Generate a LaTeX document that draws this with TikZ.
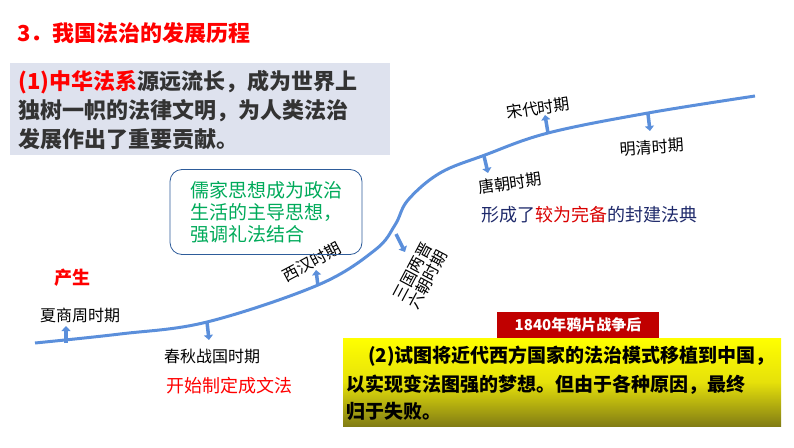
\documentclass[tikz,border=0pt]{standalone}
\usepackage{fontspec}
\setmainfont{Noto Sans CJK SC}
\usetikzlibrary{arrows.meta}
\definecolor{curveblue}{HTML}{5B8FDB}
\definecolor{titlered}{HTML}{FF0000}
\definecolor{navy}{HTML}{1F2A6B}
\tikzset{
  fs/.style={font=\fontsize{#1}{#1}\selectfont},
  fsb/.style={font=\fontsize{#1}{#1}\selectfont\bfseries},
  stub/.style={curveblue,line width=3.5pt,-{Triangle[length=5pt,width=9pt]}},
  period/.style={fs=16,anchor=center,inner sep=0pt},
}
\begin{document}
\begin{tikzpicture}[x=1pt,y=-1pt]
\useasboundingbox (0,0) rectangle (794,447);
% title
\node[fsb=22,text=titlered,anchor=west] (title) at (14,33) {3．我国法治的发展历程};
% grey box
\fill[fill={rgb,255:red,222;green,226;blue,238}] (10,63) rectangle (390,155);
\node[anchor=north west,align=left,fsb=22,text={rgb,255:red,51;green,51;blue,51},inner sep=0pt] (intro) at (18,70)
 {\textcolor{titlered}{(1)中华法系}源远流长，成为世界上\\[5pt]独树一帜的法律文明，为人类法治\\[5pt]发展作出了重要贡献。};
% curve
\draw[curveblue,line width=3pt] plot[smooth,tension=0.6] coordinates
 {(35,343) (120,334) (207,322) (318,285) (375,250) (395,225) (408,200) (440,173) (485,155) (548,133) (648,113) (755,96)};
% stubs
\coordinate (c1) at (66,343); \coordinate (c1e) at (66,326);
\coordinate (c2) at (207,322); \coordinate (c2e) at (209,340);
\coordinate (c3) at (318,286); \coordinate (c3e) at (316,270);
\coordinate (c4) at (396,234); \coordinate (c4e) at (405,252);
\coordinate (c5) at (484,156); \coordinate (c5e) at (488,173);
\coordinate (c6) at (548,133); \coordinate (c6e) at (545,115);
\coordinate (c7) at (648,114); \coordinate (c7e) at (650,131);
\foreach \a in {1,...,7}{\draw[stub] (c\a) -- (c\a e);}
% labels
\node[period] (xia) at (80,315) {夏商周时期};
\node[fsb=18,text=titlered] (cs) at (72,278) {产生};
\node[period] (cq) at (212,356) {春秋战国时期};
\node[fs=18,text=titlered] (cwf) at (229,386) {开始制定成文法};
\node[period,rotate=28] (xh) at (312,262) {西汉时期};
\node[period,rotate=62,align=center] (sg) at (420,276) {三国两晋\\[1pt]六朝时期};
\node[period,rotate=8] (tang) at (510,183) {唐朝时期};
\node[period,rotate=8] (song) at (538,108) {宋代时期};
\node[period,rotate=4] (ming) at (652,147) {明清时期};
\node[fs=18,text=navy,anchor=west] (fd) at (478,215) {形成了\textcolor{red!85!black}{较为完备}的封建法典};
% green box
\node[draw={rgb,255:red,46;green,92;blue,154},line width=0.8pt,rounded corners=12pt,minimum width=192pt,minimum height=85pt,
 align=left,fs=19,text={rgb,255:red,0;green,170;blue,90}] (rj) at (266,212)
 {儒家思想成为政治\\[3pt]生活的主导思想，\\[3pt]强调礼法结合};
% 1840
\node[fill={rgb,255:red,192;green,0;blue,0},text=white,fsb=15,minimum width=162pt,minimum height=26pt,inner sep=0pt] (y1840) at (578,325) {1840年鸦片战争后};
\shade[top color={rgb,255:red,255;green,255;blue,0},bottom color={rgb,255:red,130;green,125;blue,20},middle color={rgb,255:red,230;green,225;blue,10}] (343,338) rectangle (781,426);
\node[anchor=north west,align=left,fsb=19,inner sep=0pt] (fail) at (346,346)
 {\hspace{22pt}(2)试图将近代西方国家的法治模式移植到中国，\\[7pt]以实现变法图强的梦想。但由于各种原因，最终\\[7pt]归于失败。};
\end{tikzpicture}
\end{document}
